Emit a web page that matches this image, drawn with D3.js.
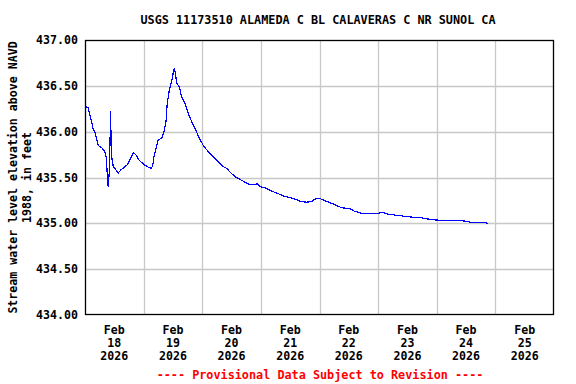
<!DOCTYPE html>
<html>
<head>
<meta charset="utf-8">
<script src="https://d3js.org/d3.v7.min.js"></script>
<style>
  body { margin: 0; background: #fff; }
  text { font-family: "DejaVu Sans Mono", monospace; font-weight: bold; }
</style>
</head>
<body>
<div id="chart"></div>
<script>
// gage height readings
var times = [
  "2026-02-18T00:25", "2026-02-18T01:15", "2026-02-18T02:20", "2026-02-18T03:15", "2026-02-18T04:05",
  "2026-02-18T05:25", "2026-02-18T07:05", "2026-02-18T08:05", "2026-02-18T08:45", "2026-02-18T09:10",
  "2026-02-18T09:30", "2026-02-18T10:00", "2026-02-18T10:30", "2026-02-18T10:45", "2026-02-18T11:35",
  "2026-02-18T13:40", "2026-02-18T14:35", "2026-02-18T17:20", "2026-02-18T18:40", "2026-02-18T19:45",
  "2026-02-18T20:45", "2026-02-18T22:05", "2026-02-19T00:10", "2026-02-19T02:10", "2026-02-19T03:00",
  "2026-02-19T03:40", "2026-02-19T04:15", "2026-02-19T05:05", "2026-02-19T06:00", "2026-02-19T07:25",
  "2026-02-19T08:20", "2026-02-19T09:10", "2026-02-19T09:40", "2026-02-19T10:30", "2026-02-19T11:30",
  "2026-02-19T12:10", "2026-02-19T12:35", "2026-02-19T13:00", "2026-02-19T13:30", "2026-02-19T14:35",
  "2026-02-19T15:35", "2026-02-19T16:55", "2026-02-19T18:15", "2026-02-19T19:40", "2026-02-19T21:00",
  "2026-02-19T22:25", "2026-02-20T00:25", "2026-02-20T02:30", "2026-02-20T04:30", "2026-02-20T07:00",
  "2026-02-20T08:35", "2026-02-20T10:00", "2026-02-20T11:20", "2026-02-20T13:25", "2026-02-20T15:25",
  "2026-02-20T17:30", "2026-02-20T18:50", "2026-02-20T20:55", "2026-02-20T22:30", "2026-02-20T23:40",
  "2026-02-21T01:40", "2026-02-21T03:45", "2026-02-21T06:30", "2026-02-21T09:10", "2026-02-21T11:55",
  "2026-02-21T14:40", "2026-02-21T16:00", "2026-02-21T18:45", "2026-02-21T20:50", "2026-02-21T22:35",
  "2026-02-22T00:10", "2026-02-22T02:55", "2026-02-22T05:40", "2026-02-22T09:05", "2026-02-22T12:30",
  "2026-02-22T14:30", "2026-02-22T17:20", "2026-02-23T00:05", "2026-02-23T01:30", "2026-02-23T04:10",
  "2026-02-23T06:55", "2026-02-23T13:00", "2026-02-23T17:50", "2026-02-23T21:55", "2026-02-24T03:20",
  "2026-02-24T10:10", "2026-02-24T14:20", "2026-02-24T19:05", "2026-02-24T21:05"
];
var levels = [
  436.27, 436.26, 436.15, 436.04, 435.99,
  435.85, 435.82, 435.78, 435.71, 435.51,
  435.40, 435.58, 436.22, 435.75, 435.62,
  435.55, 435.58, 435.64, 435.71, 435.77,
  435.75, 435.69, 435.64, 435.61, 435.60,
  435.62, 435.73, 435.82, 435.91, 435.93,
  436.00, 436.11, 436.31, 436.45, 436.55,
  436.65, 436.69, 436.64, 436.53, 436.49,
  436.38, 436.31, 436.20, 436.11, 436.04,
  435.95, 435.85, 435.78, 435.73, 435.66,
  435.62, 435.60, 435.56, 435.51, 435.48,
  435.45, 435.43, 435.42, 435.43, 435.40,
  435.39, 435.36, 435.33, 435.30, 435.28,
  435.26, 435.24, 435.23, 435.24, 435.27,
  435.27, 435.24, 435.21, 435.17, 435.16,
  435.13, 435.11, 435.11, 435.12, 435.10,
  435.09, 435.07, 435.06, 435.04, 435.03,
  435.03, 435.01, 435.01, 435.00
];
var yTicks = [434.0, 434.5, 435.0, 435.5, 436.0, 436.5, 437.0];
var dayTicks = ["2026-02-18", "2026-02-19", "2026-02-20", "2026-02-21",
                "2026-02-22", "2026-02-23", "2026-02-24", "2026-02-25"];

var parseTime = d3.timeParse("%Y-%m-%dT%H:%M");
var parseDay = d3.timeParse("%Y-%m-%d");

var data = times.map(function(t, i) {
    return { date: parseTime(t), value: levels[i] };
});

var width = 576, height = 384;
var margin = {top: 40, right: 22, bottom: 69, left: 85};

var svg = d3.select("#chart").append("svg")
    .attr("width", width)
    .attr("height", height);

var x = d3.scaleTime()
    .domain([parseDay("2026-02-18"), parseDay("2026-02-26")])
    .range([margin.left, width - margin.right]);

var y = d3.scaleLinear()
    .domain([434, 437])
    .range([height - margin.bottom, margin.top]);

// grid
var gridDays = d3.timeDay.range(parseDay("2026-02-19"), parseDay("2026-02-26"));
svg.append("g").selectAll("line")
    .data(gridDays)
    .enter().append("line")
    .attr("x1", d => Math.round(x(d)) + 0.5)
    .attr("x2", d => Math.round(x(d)) + 0.5)
    .attr("y1", margin.top)
    .attr("y2", height - margin.bottom)
    .attr("stroke", "#c8c8c8")
    .attr("stroke-width", 1.3);

svg.append("g").selectAll("line")
    .data(yTicks.slice(1, -1))
    .enter().append("line")
    .attr("x1", margin.left)
    .attr("x2", width - margin.right)
    .attr("y1", d => Math.round(y(d)) + 0.5)
    .attr("y2", d => Math.round(y(d)) + 0.5)
    .attr("stroke", "#c8c8c8")
    .attr("stroke-width", 1.3);

// data line
var line = d3.line()
    .x(d => x(d.date))
    .y(d => y(d.value));

svg.append("path")
    .datum(data)
    .attr("fill", "none")
    .attr("stroke", "#0000ff")
    .attr("stroke-width", 1.2)
    .style("shape-rendering", "crispEdges")
    .attr("d", line);

// frame
svg.append("rect")
    .attr("x", margin.left + 0.5)
    .attr("y", margin.top + 0.5)
    .attr("width", width - margin.left - margin.right - 1)
    .attr("height", height - margin.top - margin.bottom - 1)
    .attr("fill", "none")
    .attr("stroke", "#000")
    .attr("stroke-width", 1.3);

// y tick labels
svg.append("g").selectAll("text")
    .data(yTicks)
    .enter().append("text")
    .attr("x", margin.left - 7)
    .attr("y", d => y(d))
    .attr("dy", "0.35em")
    .attr("text-anchor", "end")
    .attr("font-size", 11.6)
    .text(d => d.toFixed(2));

// x tick labels, centred on noon of each day
var fmtDay = d3.timeFormat("%d");
var xl = svg.append("g").selectAll("text")
    .data(dayTicks.map(parseDay))
    .enter().append("text")
    .attr("text-anchor", "middle")
    .attr("font-size", 11.6)
    .attr("transform", d => "translate(" + x(d3.timeHour.offset(d, 12)) + ",0)");
xl.append("tspan").attr("x", 0).attr("y", 334).text("Feb");
xl.append("tspan").attr("x", 0).attr("y", 347).text(d => fmtDay(d));
xl.append("tspan").attr("x", 0).attr("y", 360).text(d => d.getFullYear());

// y axis title
var yt = svg.append("text")
    .attr("text-anchor", "middle")
    .attr("font-size", 11.6)
    .attr("transform", "translate(0," + ((margin.top + height - margin.bottom) / 2) + ") rotate(-90)");
yt.append("tspan").attr("x", 0).attr("y", 17).text("Stream water level elevation above NAVD");
yt.append("tspan").attr("x", 0).attr("y", 31).text("1988, in feet");

// title
svg.append("text")
    .attr("x", 318)
    .attr("y", 24)
    .attr("text-anchor", "middle")
    .attr("font-size", 11.8)
    .text("USGS 11173510 ALAMEDA C BL CALAVERAS C NR SUNOL CA");

// footer
svg.append("text")
    .attr("x", 320)
    .attr("y", 379)
    .attr("text-anchor", "middle")
    .attr("font-size", 11.8)
    .attr("fill", "#ff0000")
    .text("---- Provisional Data Subject to Revision ----");
</script>
</body>
</html>
